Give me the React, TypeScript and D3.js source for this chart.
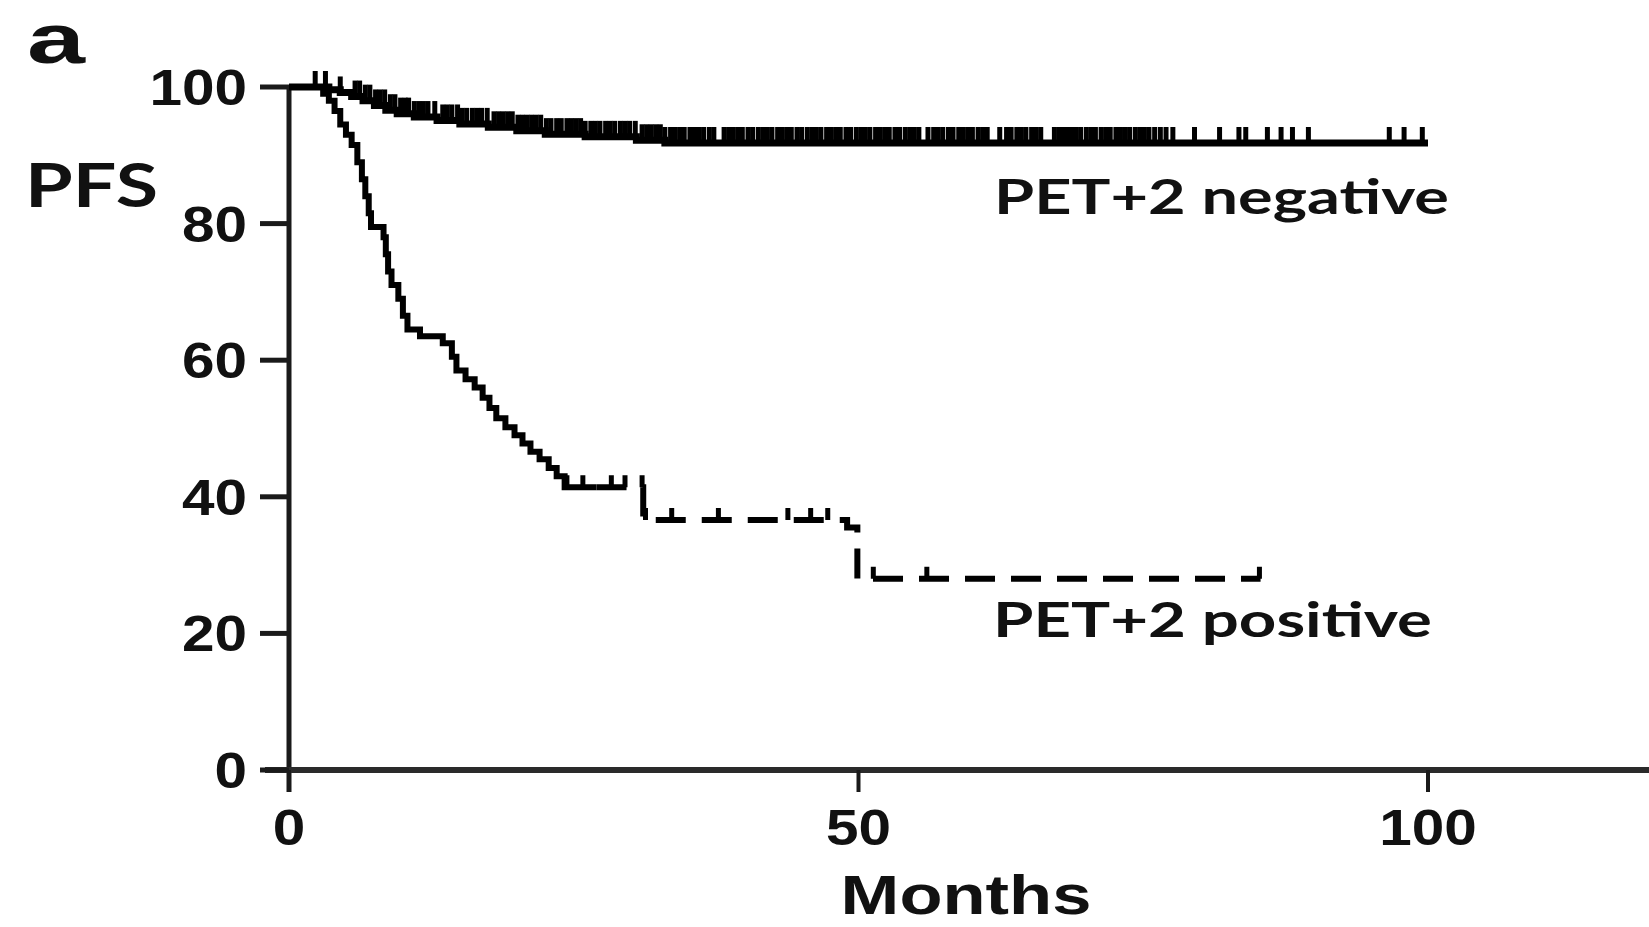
import React from "react";
import * as d3 from "d3";

// ---- data ----
const yTicks = [0, 20, 40, 60, 80, 100];
const xTicks = [0, 50, 100];

// PET+2 negative: step times (months) and PFS (%)
const negTimes = [0, 3.5, 4.5, 5.5, 6.5, 7.5, 8.5, 9.5, 11, 13, 15, 17.5, 20, 22.5, 26, 30.5, 33, 100];
const negSurv = [100, 99.6, 99.2, 98.6, 98.0, 97.3, 96.6, 96.1, 95.6, 95.1, 94.6, 94.1, 93.6, 93.1, 92.7, 92.2, 91.8, 91.8];
const negCensor = [2.3, 3.2, 4.5, 5.8, 6.2, 6.7, 7.1, 7.6, 8.0, 8.4, 8.9, 9.3, 9.8, 10.2, 10.5, 11.0, 11.4, 11.8, 12.2, 12.8,
  13.5, 13.9, 14.3, 14.8, 15.2, 15.6, 16.1, 16.5, 16.9, 17.4, 18.0, 18.4, 18.8, 19.2, 19.6, 20.1, 20.5, 20.9, 21.3, 21.7,
  22.1, 22.6, 23.0, 23.5, 23.9, 24.4, 24.8, 25.2, 25.6, 26.0, 26.5, 26.9, 27.3, 27.8, 28.2, 28.6, 29.1, 29.5, 29.9, 30.4,
  31.0, 31.4, 31.8, 32.2, 32.6, 33.0, 33.5, 33.9, 34.3, 34.7, 35.2, 35.6, 36.0, 36.4, 36.9, 37.3, 38.2, 38.6, 39.0, 39.4,
  39.8, 40.3, 40.7, 41.2, 41.6, 42.0, 42.4, 42.9, 43.3, 43.7, 44.1, 44.6, 45.0, 45.5, 45.9, 46.3, 46.7, 47.2, 47.6, 48.0,
  48.4, 48.9, 49.3, 49.8, 50.2, 50.6, 51.0, 51.5, 51.9, 52.3, 52.7, 53.2, 53.6, 54.1, 54.5, 54.9, 55.3, 56.1, 56.6, 57.0,
  57.4, 57.9, 58.3, 58.8, 59.2, 59.6, 60.0, 60.5, 60.9, 61.3, 62.4, 63.0, 63.4, 63.9, 64.3, 64.7, 65.2, 65.6, 66.0, 67.2,
  67.6, 68.0, 68.3, 68.7, 69.1, 69.5, 70.0, 70.4, 70.8, 71.3, 71.7, 72.1, 72.6, 73.0, 73.4, 73.8, 74.3, 74.7, 75.1, 75.5,
  76.0, 76.5, 77.0, 77.6, 79.5, 81.7, 83.4, 84.0, 85.9, 87.1, 88.1, 89.5, 96.6, 97.9, 99.5];

// PET+2 positive
const posTimes = [0, 3.0, 3.5, 4.0, 4.5, 5.0, 5.5, 6.0, 6.4, 6.7, 7.0, 7.2, 8.3, 8.5, 8.7, 9.0, 9.6, 10.0, 10.4, 11.5,
  13.5, 14.3, 14.7, 15.5, 16.3, 17.0, 17.6, 18.2, 19.0, 19.8, 20.5, 21.2, 22.0, 22.8, 23.5, 24.2, 31.1, 49.0, 49.9, 85.3];
const posSurv = [100, 99, 98, 96.5, 94.5, 93, 91.5, 89, 86.5, 84, 81.5, 79.5, 78, 75.5, 73, 71, 69, 66.5, 64.5, 63.5,
  62.5, 60.5, 58.5, 57.2, 56, 54.5, 53, 51.5, 50.2, 49, 47.8, 46.6, 45.5, 44.2, 43, 41.4, 36.6, 35.5, 28, 28];
const posCensor = [24.4, 25.8, 28.3, 29.5, 31.0, 31.3, 33.6, 37.7, 43.8, 45.8, 47.3, 51.3, 56.0, 85.2];
const posDashFrom = 27;

const W = 1649;
const H = 927;

function survAt(times: number[], surv: number[], t: number) {
  const i = d3.bisectRight(times, t) - 1;
  return surv[Math.max(0, Math.min(i, surv.length - 1))];
}

export default function App() {
  const x = d3.scaleLinear().domain([0, 100]).range([289, 1428]);
  const y = d3.scaleLinear().domain([0, 100]).range([770, 87]);
  const line = d3
    .line<[number, number]>()
    .x((d) => x(d[0]))
    .y((d) => y(d[1]))
    .curve(d3.curveStepAfter);

  const negPts: [number, number][] = negTimes.map((t, i) => [t, negSurv[i]]);
  const posAll: [number, number][] = posTimes.map((t, i) => [t, posSurv[i]]);
  const posSolid: [number, number][] = posAll.filter((d) => d[0] < posDashFrom);
  posSolid.push([posDashFrom, survAt(posTimes, posSurv, posDashFrom)]);
  const posDashed: [number, number][] = [[posDashFrom, survAt(posTimes, posSurv, posDashFrom)], ...posAll.filter((d) => d[0] > posDashFrom)];

  const armFont = "'Liberation Sans', Arial, sans-serif";
  const calFont = "Lato, 'Open Sans', sans-serif";
  const sx = 1.17;

  return (
    <svg width={W} height={H} style={{ position: "fixed", left: 0, top: 0, background: "#fff" }}>
      <rect x={0} y={0} width={W} height={H} fill="#fff" />
      {/* axes */}
      <line x1={x(0)} x2={x(0)} y1={y(100)} y2={792} stroke="#1a1a1a" strokeWidth={5} />
      <line x1={265} x2={W} y1={y(0)} y2={y(0)} stroke="#2a2a2a" strokeWidth={6} />
      {yTicks.map((v) => (
        <g key={"yt" + v}>
          <line x1={260} x2={x(0)} y1={y(v)} y2={y(v)} stroke="#1a1a1a" strokeWidth={5} />
          <text
            transform={`translate(247,${y(v) + 18}) scale(${sx},1)`}
            textAnchor="end"
            fontFamily={armFont}
            fontWeight="bold"
            fontSize={50}
            fill="#111"
          >
            {v}
          </text>
        </g>
      ))}
      {xTicks.map((v) => (
        <g key={"xt" + v}>
          <line x1={x(v)} x2={x(v)} y1={y(0)} y2={792} stroke="#1a1a1a" strokeWidth={4} />
          <text
            transform={`translate(${x(v)},845) scale(${sx},1)`}
            textAnchor="middle"
            fontFamily={armFont}
            fontWeight="bold"
            fontSize={50}
            fill="#111"
          >
            {v}
          </text>
        </g>
      ))}
      <text
        transform={`translate(966,914) scale(1.26,1)`}
        textAnchor="middle"
        fontFamily={armFont}
        fontWeight="bold"
        fontSize={56}
        fill="#111"
      >
        Months
      </text>
      <text x={27} y={63} textLength={58} lengthAdjust="spacingAndGlyphs" fontFamily={armFont} fontWeight="bold" fontSize={70} fill="#111">
        a
      </text>
      <text x={25} y={207} textLength={133} lengthAdjust="spacingAndGlyphs" fontFamily={calFont} fontWeight="bold" fontSize={61} fill="#111">
        PFS
      </text>
      <text x={994} y={214} textLength={455} lengthAdjust="spacingAndGlyphs" fontFamily={calFont} fontWeight="bold" fontSize={47.5} fill="#111">
        PET+2 negative
      </text>
      <text x={993} y={637} textLength={439} lengthAdjust="spacingAndGlyphs" fontFamily={calFont} fontWeight="bold" fontSize={47.5} fill="#111">
        PET+2 positive
      </text>

      {/* PET+2 negative curve */}
      <path d={line(negPts) || ""} fill="none" stroke="#000" strokeWidth={7} />
      {negCensor.map((t, i) => {
        const v = survAt(negTimes, negSurv, t);
        return <line key={"nc" + i} x1={x(t)} x2={x(t)} y1={y(v)} y2={y(v) - 16} stroke="#000" strokeWidth={5} />;
      })}

      {/* PET+2 positive curve */}
      <path d={line(posSolid) || ""} fill="none" stroke="#000" strokeWidth={6} />
      <path d={line(posDashed) || ""} fill="none" stroke="#000" strokeWidth={6} strokeDasharray="30 16" />
      {posCensor.map((t, i) => {
        const v = survAt(posTimes, posSurv, t);
        return <line key={"pc" + i} x1={x(t)} x2={x(t)} y1={y(v)} y2={y(v) - 12} stroke="#000" strokeWidth={5} />;
      })}
    </svg>
  );
}
